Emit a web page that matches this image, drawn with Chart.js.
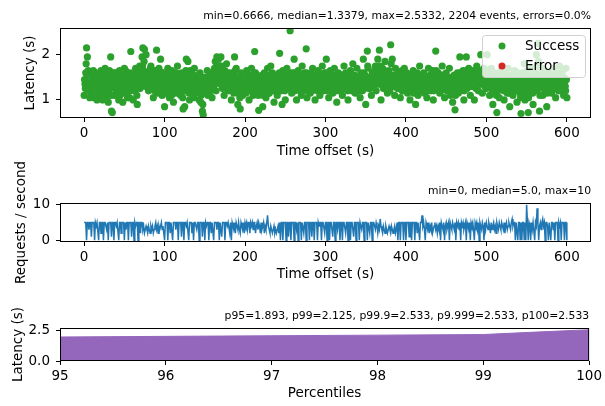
<!DOCTYPE html>
<html>
<head>
<meta charset="utf-8">
<script src="https://cdn.jsdelivr.net/npm/chart.js@4"></script>
<style>
body { margin: 0; background: #fff; }
.box { position: absolute; left: 0; width: 605px; }
</style>
</head>
<body>
<div class="box" style="top:0;height:168px"><canvas id="chartLatency"></canvas></div>
<div class="box" style="top:150px;height:142px"><canvas id="chartRate"></canvas></div>
<div class="box" style="top:290px;height:116px"><canvas id="chartPct"></canvas></div>
<script>
// latency samples of successful events, one per whole second starting at 0 s
const successLatencyA = [
1.1,1.35,1.6,2.15,1.95,1.65,1.25,1.05,1.4,1.3,1.15,1.5,1.2,1.45,1.6,1.35,1.0,1.55,1.3,1.1,
1.4,1.65,1.2,1.0,1.5,1.35,1.7,1.15,1.45,1.25,0.95,1.55,1.3,1.95,0.75,0.72,1.4,1.6,1.1,1.3,
1.5,1.2,1.35,1.0,1.65,1.45,1.25,1.55,0.95,1.4,1.7,1.3,1.15,1.5,1.05,1.35,1.6,1.2,2.07,1.45,
1.3,1.0,1.55,1.4,1.7,1.25,0.9,1.6,1.45,1.75,1.35,1.5,1.95,2.15,1.65,2.12,1.3,2.0,1.55,1.4,
1.2,1.6,1.45,1.75,1.3,1.55,1.05,1.4,1.65,1.25,2.1,1.5,1.35,1.7,1.2,1.9,1.45,1.1,1.6,1.3,
0.85,1.4,1.55,1.2,1.7,1.35,1.05,1.5,1.25,1.65,1.4,0.95,1.3,1.6,1.15,1.45,1.75,1.25,1.5,1.35,
1.1,1.6,1.3,0.8,1.45,0.85,1.2,1.9,1.55,1.85,1.35,1.0,1.65,1.4,1.25,1.5,1.05,1.7,1.3,1.45,
1.2,1.55,1.35,1.0,1.6,0.95,1.25,0.75,0.67,1.4,1.15,1.5,1.3,1.65,1.1,1.45,1.25,1.6,1.4,1.05,
1.5,1.3,1.7,1.85,1.2,1.95,1.45,1.9,1.6,1.35,1.95,1.75,1.25,1.55,1.1,1.65,1.4,1.8,1.3,1.5,
1.2,1.6,1.35,1.0,1.55,1.45,1.15,1.95,1.4,1.7,1.25,0.9,1.5,1.3,0.8,1.6,1.35,1.1,1.45,1.25,
1.5,1.15,1.65,1.3,1.4,1.0,1.55,1.25,1.7,1.35,1.1,1.45,2.07,1.6,1.3,1.2,1.5,0.77,1.4,1.15,
1.35,1.55,0.85,1.25,1.6,1.4,1.05,1.5,1.7,1.3,1.15,1.45,1.75,1.2,1.6,1.35,0.95,1.5,1.25,1.4,
1.1,1.55,1.3,2.03,1.45,1.2,0.9,1.65,1.35,1.5,1.0,1.4,1.7,1.25,1.55,1.3,2.53,1.45,1.15,1.6,
1.35,1.9,1.2,1.5,1.0,1.4,1.65,1.25,1.55,1.3,1.1,1.75,1.45,1.2,1.6,1.35,2.13,1.05,1.5,1.3,
1.4,1.15,1.6,1.3,1.7,1.25,1.45,1.0,1.55,1.35,1.2,1.65,1.4,1.1,1.5,1.3,1.75,1.25,1.45,1.6,
1.35,1.9,1.2,1.5,1.05,1.4,1.65,1.3,1.55,1.15,1.45,1.7,1.25,1.5,0.95,1.35,1.6,1.2,1.4,1.3,
1.55,1.1,1.45,1.75,1.3,1.6,1.25,1.4,1.0,1.5,1.35,1.65,1.2,1.45,1.8,1.3,1.55,1.15,1.4,1.7,
1.25,1.5,1.35,1.05,1.6,1.4,1.2,1.9,1.3,1.55,0.9,1.45,2.08,1.7,1.25,1.5,1.35,1.1,1.6,1.4,
1.3,1.55,1.75,1.2,1.45,1.9,1.35,2.1,1.6,1.0,1.4,1.7,1.25,1.5,1.85,1.3,1.55,1.15,1.45,1.65,
1.2,2.22,1.4,1.9,1.35,1.55,1.1,1.7,1.3,1.45,1.6,1.25,1.5,1.05,1.4,1.65,1.2,1.35,1.7,1.5,
1.3,1.6,1.15,1.45,1.35,1.0,1.55,1.25,1.4,1.65,1.2,1.5,0.9,1.35,1.6,1.1,1.45,1.75,1.3,1.5,
1.25,1.4,1.6,1.15,1.5,1.35,1.05,1.45,1.7,1.3,1.55,1.2,1.4,1.65,1.0,1.5,1.35,2.08,1.25,1.45,
1.6,1.3,1.15,1.5,1.4,1.75,1.25,1.55,1.05,1.35,1.6,1.2,1.45,1.3,1.7,1.1,1.5,1.35,0.95,1.4,
1.55,0.78,1.25,1.45,1.6,1.15,1.35,1.95,1.5,1.2,1.4,1.65,1.0,1.3,1.55,1.95,1.25,1.45,1.7,1.35,
1.1,1.5,1.3,1.65,1.4,1.0,1.55,1.25,1.75,1.45,1.2,1.6,1.35,2.0,1.5,1.15,1.4,1.7,1.3,1.55,
1.25,2.0,1.45,1.6,1.1,1.35,1.7,1.5,0.9,1.4,1.6,1.2,1.45,0.72,1.3,1.55,1.05,1.4,1.65,1.25,
1.5,1.35,1.0,1.6,1.3,1.45,1.15,1.7,1.4,0.85,1.55,1.25,1.5,1.1,1.35,1.65,1.2,1.45,0.95,1.6,
1.3,1.5,1.15,0.7,1.4,1.6,1.25,1.8,1.0,1.45,1.35,1.65,0.72,1.55,1.2,1.4,1.7,1.3,0.9,1.5,
1.35,1.6,2.0,1.2,2.25,1.45,0.75,1.55,1.3,1.7,1.1,1.4,1.65,1.25,1.5,0.85,1.45,1.6,1.2,1.35,
1.55,1.15,1.4,1.7,1.3,1.5,1.05,1.45,1.6,1.25,1.4,1.75,1.2,1.5,1.35,1.65,1.1,1.45,1.3,1.7,
1.05
];
// more samples, taken half a second later (0.5 s, 1.5 s, ...)
const successLatencyB = [
1.45,1.25,1.8,1.55,1.35,1.2,1.6,1.4,1.15,1.5,1.3,1.65,1.05,1.4,1.25,1.55,1.35,1.2,1.45,1.6,
1.3,1.15,1.5,1.35,1.6,1.25,1.45,1.05,1.55,1.4,1.2,1.65,1.35,1.1,1.5,1.3,1.45,1.25,1.6,1.4,
1.2,1.55,1.3,1.45,1.1,1.6,1.35,1.25,1.5,1.15,1.4,1.65,1.3,1.45,1.2,1.55,1.05,1.4,1.3,1.5,
1.6,1.35,1.2,1.5,1.45,1.1,1.4,1.3,1.65,1.25,1.55,1.4,1.75,1.5,1.85,1.35,1.6,1.45,1.3,1.55,
1.45,1.3,1.7,1.25,1.55,1.4,1.65,1.2,1.5,1.35,1.6,1.15,1.45,1.3,1.55,1.4,1.25,1.6,1.35,1.5,
1.3,1.15,1.5,1.4,1.25,1.6,1.35,1.45,1.1,1.55,1.3,1.2,1.45,1.35,1.6,1.25,1.5,1.4,1.15,1.55,
1.45,1.25,1.05,1.35,1.2,1.5,1.65,1.4,1.3,1.55,1.15,1.45,1.25,1.6,1.35,1.1,1.5,1.3,1.45,1.2,
1.4,1.3,1.15,1.45,1.25,1.1,1.35,0.9,1.2,1.5,1.3,1.25,1.45,1.15,1.4,1.3,1.55,1.2,1.35,1.5,
1.3,1.55,1.45,1.65,1.4,1.7,1.6,1.5,1.75,1.45,1.6,1.35,1.55,1.4,1.3,1.5,1.25,1.6,1.45,1.35,
1.4,1.35,1.5,1.25,1.45,1.3,1.55,1.65,1.2,1.45,1.35,1.15,1.3,1.05,1.4,1.25,1.5,1.3,1.2,1.45,
1.35,1.3,1.45,1.55,1.2,1.4,1.3,1.5,1.45,1.2,1.35,1.6,1.4,1.25,1.5,1.35,1.1,1.3,1.2,1.4,
1.25,1.4,1.1,1.45,1.35,1.2,1.3,1.55,1.4,1.15,1.35,1.25,1.5,1.4,1.3,1.2,1.45,1.3,1.4,1.25,
1.35,1.4,1.6,1.5,1.25,1.45,1.3,1.4,1.55,1.2,1.35,1.5,1.45,1.3,1.4,1.6,1.45,1.3,1.4,1.35,
1.5,1.6,1.35,1.25,1.45,1.3,1.5,1.4,1.2,1.55,1.35,1.45,1.3,1.4,1.25,1.5,1.6,1.35,1.2,1.45,
1.3,1.4,1.5,1.2,1.45,1.35,1.55,1.25,1.4,1.3,1.5,1.35,1.25,1.45,1.3,1.55,1.4,1.2,1.35,1.5,
1.45,1.6,1.35,1.25,1.3,1.5,1.4,1.2,1.45,1.35,1.55,1.3,1.4,1.2,1.35,1.5,1.25,1.45,1.3,1.4,
1.35,1.45,1.25,1.55,1.4,1.3,1.5,1.2,1.35,1.45,1.6,1.3,1.4,1.55,1.35,1.45,1.25,1.5,1.4,1.3,
1.45,1.3,1.2,1.4,1.35,1.55,1.45,1.6,1.25,1.4,1.3,1.5,1.75,1.45,1.35,1.25,1.5,1.4,1.3,1.55,
1.45,1.65,1.4,1.55,1.7,1.45,1.6,1.75,1.35,1.5,1.45,1.3,1.55,1.65,1.4,1.5,1.35,1.45,1.6,1.3,
1.55,1.8,1.45,1.3,1.5,1.4,1.35,1.55,1.45,1.25,1.4,1.5,1.3,1.45,1.35,1.2,1.4,1.55,1.3,1.45,
1.4,1.25,1.45,1.3,1.2,1.4,1.35,1.5,1.3,1.15,1.45,1.3,1.25,1.4,1.35,1.2,1.3,1.45,1.35,1.25,
1.35,1.2,1.45,1.3,1.25,1.4,1.3,1.2,1.5,1.35,1.25,1.45,1.3,1.4,1.2,1.35,1.5,1.65,1.4,1.3,
1.35,1.45,1.3,1.2,1.55,1.4,1.3,1.45,1.25,1.35,1.5,1.3,1.2,1.45,1.35,1.25,1.4,1.3,1.15,1.35,
1.25,1.1,1.35,1.2,1.45,1.3,1.5,1.6,1.4,1.25,1.35,1.45,1.2,1.4,1.55,1.65,1.35,1.5,1.4,1.3,
1.35,1.45,1.6,1.4,1.3,1.5,1.45,1.35,1.55,1.4,1.5,1.65,1.45,1.55,1.35,1.4,1.6,1.5,1.4,1.45,
1.55,1.65,1.4,1.3,1.45,1.5,1.35,1.2,1.3,1.45,1.35,1.25,1.1,1.3,1.2,1.4,1.3,1.5,1.35,1.45,
1.3,1.2,1.4,1.35,1.45,1.3,1.5,1.25,1.15,1.35,1.4,1.3,1.2,1.45,1.3,1.25,1.4,1.35,1.2,1.3,
1.4,1.25,1.05,1.3,1.45,1.35,1.55,1.2,1.3,1.1,1.4,1.2,1.05,1.35,1.25,1.45,1.3,1.15,1.4,1.3,
1.45,1.6,1.75,1.5,1.85,1.3,1.1,1.4,1.55,1.35,1.25,1.5,1.4,1.3,1.2,1.15,1.35,1.45,1.25,1.4,
1.3,1.45,1.55,1.35,1.25,1.4,1.3,1.5,1.35,1.2,1.45,1.3,1.4,1.55,1.25,1.35,1.5,1.4,1.2,1.45
];
const errorLatency = [];

// requests per second, one value per second starting at 0 s
const requestsPerSecond = [
5,5,5,0,5,5,3,5,5,1,5,5,5,0,5,4,5,5,0,5,
5,2,5,5,0,5,5,5,3,5,0,5,5,5,1,5,5,0,5,5,
4,5,5,0,5,5,2,5,5,5,0,5,3,5,5,0,5,5,5,1,
5,5,0,5,4,5,5,0,5,5,2,5,5,3,4,2,3,4,3,2,
4,3,2,4,3,4,2,3,4,5,3,4,2,4,3,4,5,3,4,2,
0,5,5,5,0,5,5,2,5,5,0,5,5,5,3,5,5,0,5,5,
5,1,5,5,0,5,5,4,5,5,0,5,5,5,2,5,0,5,5,5,
3,5,5,0,5,5,5,1,5,5,0,5,4,5,5,0,5,5,2,5,
5,0,5,5,5,3,5,5,0,5,5,1,5,5,5,0,5,5,4,5,
5,2,5,0,5,4,3,5,2,5,4,3,5,3,2,5,4,3,5,2,
5,4,5,3,5,5,2,5,4,5,3,5,5,2,4,5,3,5,4,2,
5,3,4,5,2,4,3,5,7,4,3,2,4,3,2,3,4,2,3,2,
3,4,2,5,0,5,5,0,5,5,5,0,5,5,1,5,5,0,5,5,
5,0,5,5,3,5,0,5,5,5,0,5,5,2,5,5,0,5,5,5,
0,5,5,1,5,5,0,5,5,5,0,5,4,5,5,0,5,5,5,2,
5,5,0,5,5,0,5,5,5,1,5,5,0,5,5,3,5,5,0,5,
5,0,5,5,5,2,5,5,0,5,5,0,5,5,5,1,5,5,0,5,
5,5,0,5,5,3,5,5,0,5,5,5,0,5,5,2,5,5,0,5,
5,4,3,5,4,2,4,3,6,4,3,2,4,3,2,4,3,2,3,4,
3,2,4,3,2,3,4,2,3,5,0,5,5,0,5,5,5,0,5,5,
0,5,5,5,1,5,5,0,5,5,5,0,5,5,2,5,5,0,5,5,
7,4,5,3,0,5,4,3,5,2,4,3,5,2,3,4,5,3,4,2,
4,3,5,0,5,4,3,5,0,4,5,3,4,5,0,5,4,3,5,4,
3,5,0,5,4,5,3,5,0,5,4,5,3,4,5,0,5,4,3,5,
0,5,4,5,3,0,5,4,5,3,5,0,5,4,3,5,4,0,5,3,
5,4,3,5,4,2,5,3,4,5,3,4,2,5,4,3,5,4,3,5,
4,3,5,2,4,5,3,4,5,4,3,5,6,4,5,5,0,5,5,0,
5,5,0,5,0,5,5,0,5,0,10,5,0,5,4,0,5,3,5,5,
0,5,4,9,5,0,4,5,3,5,6,4,5,0,5,5,4,0,5,5,
0,5,5,3,5,0,5,5,5,0,5,4,5,0,5,5,5,0,5,5,
0
];

const percentiles = [95, 96, 97, 98, 99, 99.5, 99.9, 100];
const percentileLatency = [1.95, 2.0, 2.05, 2.1, 2.15, 2.35, 2.5, 2.533];

const timeTicks = [0, 100, 200, 300, 400, 500, 600];
const latencyTicks = [1, 2];
const rateTicks = [0, 10];
const pctTicks = [95, 96, 97, 98, 99, 100];
const pctLatencyTicks = [0, 2.5];

Chart.defaults.font.family = "'DejaVu Sans', sans-serif";
Chart.defaults.font.size = 13.5;
Chart.defaults.color = '#000';
Chart.defaults.animation = false;

// frame round the plot area and the small stats line above it
const frame = {
  id: 'frame',
  afterDraw(chart, args, opts) {
    const a = chart.chartArea, ctx = chart.ctx;
    ctx.save();
    ctx.strokeStyle = '#000';
    ctx.lineWidth = 1;
    ctx.strokeRect(a.left + 0.5, a.top + 0.5, a.right - a.left - 1, a.bottom - a.top - 1);
    ctx.font = "10.8px 'DejaVu Sans'";
    ctx.textAlign = 'right';
    ctx.textBaseline = 'alphabetic';
    ctx.fillStyle = '#000';
    ctx.fillText(opts.text, a.right, a.top - 9);
    ctx.restore();
  }
};

const legendBox = {
  id: 'legendBox',
  afterDatasetsDraw(chart) {
    const a = chart.chartArea, ctx = chart.ctx;
    const x = a.right - 109, y = a.top + 7, w = 103, h = 42;
    ctx.save();
    ctx.fillStyle = 'rgba(255,255,255,0.8)';
    ctx.strokeStyle = '#d0d0d0';
    ctx.lineWidth = 1;
    ctx.beginPath();
    ctx.roundRect(x + 0.5, y + 0.5, w, h, 3);
    ctx.fill();
    ctx.stroke();
    chart.data.datasets.forEach((ds, i) => {
      const cy = y + 11 + i * 20;
      ctx.fillStyle = ds.backgroundColor;
      ctx.beginPath();
      ctx.arc(x + 20, cy, 3.5, 0, Math.PI * 2);
      ctx.fill();
      ctx.fillStyle = '#000';
      ctx.font = "13.5px 'DejaVu Sans'";
      ctx.textAlign = 'left';
      ctx.textBaseline = 'middle';
      ctx.fillText(ds.label, x + 43, cy);
    });
    ctx.restore();
  }
};

function xScale(min, max, vals, title, height, padBottom, fmt) {
  const ticks = { padding: 3, maxRotation: 0, autoSkip: false };
  if (fmt) ticks.callback = fmt;
  return {
    type: 'linear', min: min, max: max,
    afterBuildTicks: s => { s.ticks = vals.map(v => ({ value: v })); },
    afterFit: s => { s.height = height; },
    grid: { drawOnChartArea: false, color: '#000', tickLength: 4 },
    border: { display: false },
    ticks: ticks,
    title: { display: true, text: title, padding: { top: 4, bottom: padBottom } }
  };
}

function yScale(min, max, vals, title, titlePad, fmt) {
  const ticks = { padding: 6, autoSkip: false };
  if (fmt) ticks.callback = fmt;
  return {
    type: 'linear', min: min, max: max,
    afterBuildTicks: s => { s.ticks = vals.map(v => ({ value: v })); },
    afterFit: s => { s.width = 60; },
    grid: { drawOnChartArea: false, color: '#000', tickLength: 4 },
    border: { display: false },
    ticks: ticks,
    title: { display: true, text: title, padding: { top: titlePad, bottom: 4 } }
  };
}

const successPoints = successLatencyA.map((v, i) => ({ x: i, y: v }))
  .concat(successLatencyB.map((v, i) => ({ x: i + 0.5, y: v })));

var chartLatency = new Chart(document.getElementById('chartLatency'), {
  type: 'scatter',
  data: {
    datasets: [
      { label: 'Success', data: successPoints,
        backgroundColor: '#2ca02c', borderWidth: 0, pointRadius: 3.6 },
      { label: 'Error', data: errorLatency,
        backgroundColor: '#d62728', borderWidth: 0, pointRadius: 3.6 }
    ]
  },
  options: {
    responsive: true,
    maintainAspectRatio: false,
    layout: { padding: { top: 28, right: 14, left: 0, bottom: 0 } },
    plugins: {
      legend: { display: false },
      tooltip: { enabled: false },
      frame: { text: 'min=0.6666, median=1.3379, max=2.5332, 2204 events, errors=0.0%' }
    },
    scales: {
      x: xScale(-30, 630, timeTicks, 'Time offset (s)', 50, 8),
      y: yScale(0.6, 2.59, latencyTicks, 'Latency (s)', 22)
    }
  },
  plugins: [frame, legendBox]
});

var chartRate = new Chart(document.getElementById('chartRate'), {
  type: 'line',
  data: {
    datasets: [
      { label: 'Requests / second', data: requestsPerSecond.map((v, i) => ({ x: i, y: v })),
        borderColor: '#1f77b4', borderWidth: 1.5, pointRadius: 0, tension: 0, fill: false }
    ]
  },
  options: {
    responsive: true,
    maintainAspectRatio: false,
    layout: { padding: { top: 53, right: 14, left: 0, bottom: 0 } },
    plugins: {
      legend: { display: false },
      tooltip: { enabled: false },
      frame: { text: 'min=0, median=5.0, max=10' }
    },
    scales: {
      x: xScale(-30, 630, timeTicks, 'Time offset (s)', 50, 9),
      y: yScale(-0.5, 10.5, rateTicks, 'Requests / second', 13)
    }
  },
  plugins: [frame]
});

var chartPct = new Chart(document.getElementById('chartPct'), {
  type: 'line',
  data: {
    datasets: [
      { label: 'Latency', data: percentiles.map((p, i) => ({ x: p, y: percentileLatency[i] })),
        borderColor: '#9467bd', backgroundColor: '#9467bd', borderWidth: 1,
        pointRadius: 0, tension: 0, fill: 'origin' }
    ]
  },
  options: {
    responsive: true,
    maintainAspectRatio: false,
    layout: { padding: { top: 38, right: 14, left: 0, bottom: 0 } },
    plugins: {
      legend: { display: false },
      tooltip: { enabled: false },
      frame: { text: 'p95=1.893, p99=2.125, p99.9=2.533, p9.999=2.533, p100=2.533' }
    },
    scales: {
      x: xScale(95, 100, pctTicks, 'Percentiles', 45, 4),
      y: yScale(0, 2.68, pctLatencyTicks, 'Latency (s)', 10, v => v.toFixed(1))
    }
  },
  plugins: [frame]
});
</script>
</body>
</html>
